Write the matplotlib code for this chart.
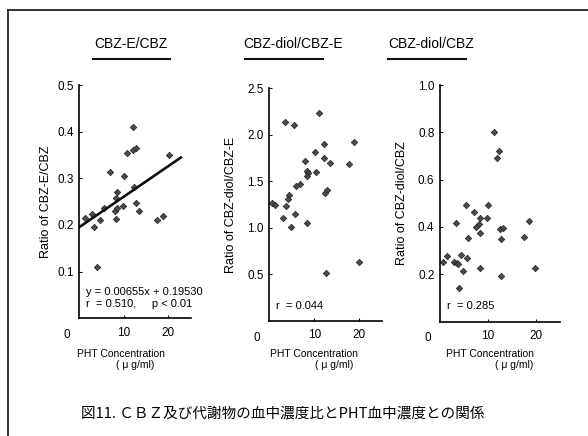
import matplotlib
matplotlib.use('Agg')
import matplotlib.pyplot as plt
from matplotlib.lines import Line2D
import numpy as np

plt.rcParams['font.family'] = ['Liberation Sans', 'Noto Sans CJK JP', 'DejaVu Sans']

# PHT concentration (ug/ml) vs. ratios
pht_e = [1.3, 2.8, 3.4, 3.9, 4.6, 5.6, 6.9, 8.0, 8.2, 8.4, 8.4, 8.2, 9.7, 10.1,
         10.8, 12.1, 12.1, 12.7, 12.3, 12.7, 13.5, 17.4, 18.7, 20.2]
ratio_e = [0.216, 0.223, 0.196, 0.111, 0.211, 0.236, 0.313, 0.231, 0.257, 0.271,
           0.236, 0.213, 0.241, 0.306, 0.354, 0.409, 0.361, 0.364, 0.282, 0.248,
           0.231, 0.211, 0.220, 0.350]

pht_de = [11.1, 3.5, 5.6, 12.2, 18.8, 10.1, 8.0, 12.2, 13.6, 17.8, 8.3, 8.6, 8.3,
          10.4, 6.9, 5.9, 12.8, 12.4, 4.4, 4.1, 0.6, 1.3, 3.7, 3.0, 5.8, 4.8, 8.3,
          20.0, 12.7]
ratio_de = [2.24, 2.14, 2.11, 1.90, 1.92, 1.82, 1.72, 1.75, 1.70, 1.69, 1.61, 1.59,
            1.56, 1.60, 1.47, 1.45, 1.41, 1.37, 1.35, 1.31, 1.27, 1.25, 1.24, 1.11,
            1.15, 1.01, 1.05, 0.63, 0.52]

pht_d = [11.2, 12.2, 11.8, 5.4, 10.1, 7.1, 8.4, 9.7, 18.6, 3.3, 8.2, 7.6, 12.5,
         13.2, 8.4, 5.8, 12.8, 17.6, 1.4, 4.3, 5.7, 0.6, 3.0, 3.5, 3.8, 4.7, 8.3,
         19.8, 12.8, 4.0]
ratio_d = [0.803, 0.721, 0.690, 0.493, 0.493, 0.465, 0.439, 0.439, 0.427, 0.418,
           0.411, 0.401, 0.390, 0.394, 0.373, 0.352, 0.351, 0.359, 0.277, 0.283,
           0.270, 0.253, 0.253, 0.246, 0.243, 0.215, 0.225, 0.225, 0.194, 0.141]

titles = ['CBZ-E/CBZ', 'CBZ-diol/CBZ-E', 'CBZ-diol/CBZ']
ylabels = ['Ratio of CBZ-E/CBZ', 'Ratio of CBZ-diol/CBZ-E', 'Ratio of CBZ-diol/CBZ']
ymax = [0.5, 2.5, 1.0]
yticks = [[0.1, 0.2, 0.3, 0.4, 0.5], [0.5, 1.0, 1.5, 2.0, 2.5], [0.2, 0.4, 0.6, 0.8, 1.0]]
stats = ['y = 0.00655x + 0.19530\nr  = 0.510,     p < 0.01', 'r  = 0.044', 'r  = 0.285']
slope, intercept = 0.00655, 0.19530

W, H = 588, 436
fig = plt.figure(figsize=(W / 100, H / 100), dpi=100)

def px(x0, y0, x1, y1):
    # pixel box (left, top, right, bottom) -> figure rect
    return [x0 / W, 1 - y1 / H, (x1 - x0) / W, (y1 - y0) / H]

boxes = [(79.3, 85, 190.7, 318.3), (269.3, 88.3, 381.7, 321), (440, 85, 560, 321.6)]
ylab_x = [-0.245, -0.29, -0.267]
title_pos = [(131, 93, 170), (293, 245, 323), (431, 388, 466)]
xlab_pos = [(121, 135), (314, 334), (489.5, 514)]
data = [(pht_e, ratio_e), (pht_de, ratio_de), (pht_d, ratio_d)]

for i in range(3):
    ax = fig.add_axes(px(*boxes[i]))
    xs, ys = data[i]
    ax.plot(xs, ys, ls='none', marker='D', ms=3.3, mfc='#4a4a4a', mec='#222222', mew=0.5)
    if i == 0:
        xl = np.array([0, 22.8])
        ax.plot(xl, slope * xl + intercept, color='#111111', lw=1.9)
    ax.set_xlim(0, 25)
    ax.set_ylim(0, ymax[i])
    ax.set_xticks([10, 20])
    ax.set_yticks(yticks[i])
    ax.set_yticklabels(['%.1f' % v for v in yticks[i]])
    ax.tick_params(direction='in', length=2, width=0.8, labelsize=8.5)
    ax.tick_params(axis='x', pad=6)
    ax.tick_params(axis='y', pad=4)
    for s in ['top', 'right']:
        ax.spines[s].set_visible(False)
    for s in ['left', 'bottom']:
        ax.spines[s].set_linewidth(1.2)
    ax.set_ylabel(ylabels[i], fontsize=9)
    ax.yaxis.set_label_coords(ylab_x[i], 0.5)
    ax.annotate('0', xy=(0, 0), xycoords='data', xytext=(-9, -12),
                textcoords='offset points', ha='center', va='center', fontsize=8.5)
    ax.text(0.06, 0.045 if i else 0.04, stats[i], transform=ax.transAxes, fontsize=8,
            va='bottom', ha='left', linespacing=1.3)

    # panel titles with underline
    tx, u0, u1 = title_pos[i]
    fig.text(tx / W, 1 - 44 / H, titles[i], ha='center', va='center', fontsize=10)
    fig.add_artist(Line2D([u0 / W, u1 / W], [1 - 59 / H, 1 - 59 / H], color='#111111', lw=1.5))

    cx1, cx2 = xlab_pos[i]
    fig.text(cx1 / W, 1 - 354 / H, 'PHT Concentration', ha='center', va='center', fontsize=7.5)
    fig.text(cx2 / W, 1 - 365 / H, '( μ g/ml)', ha='center', va='center', fontsize=7.5)

fig.text(283 / W, 1 - 414 / H, '図11. ＣＢＺ及び代謝物の血中濃度比とPHT血中濃度との関係',
         ha='center', va='center', fontsize=10.5,
         family=['Noto Sans CJK JP', 'DejaVu Sans'])

# frame around the figure
fig.add_artist(Line2D([8 / W, 8 / W], [0, 1 - 10 / H], color='#222222', lw=1.3))
fig.add_artist(Line2D([8 / W, 1], [1 - 10 / H, 1 - 10 / H], color='#222222', lw=1.3))

fig.savefig('out.png', dpi=100, facecolor='white')
